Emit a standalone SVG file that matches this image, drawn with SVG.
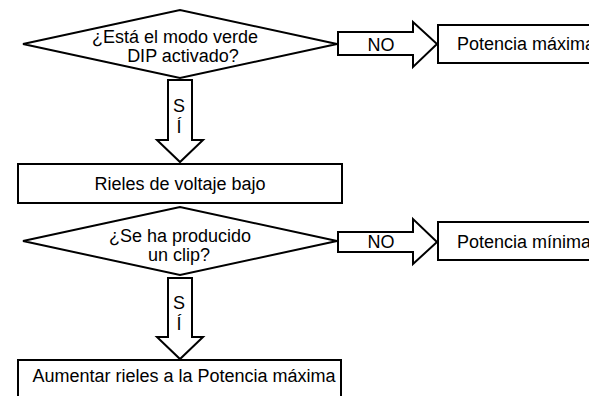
<svg xmlns="http://www.w3.org/2000/svg" width="589" height="396" viewBox="0 0 589 396">
<style>
.s{fill:#fff;stroke:#000;stroke-width:2;stroke-linejoin:miter}
.t{font-family:"Liberation Sans",Arial,sans-serif;font-size:18px;fill:#000}
.m{text-anchor:middle}
</style>
<rect width="589" height="396" fill="#fff"/>
<g id="q1">
<polygon class="s" points="23,44 180,10 337,44 180,78"/>
<text class="t m" x="175" y="43">¿Está el modo verde</text>
<text class="t m" x="183" y="62">DIP activado?</text>
</g>
<g id="pmax">
<rect class="s" x="438" y="25" width="170" height="38"/>
<text class="t" x="457" y="50">Potencia máxima</text>
</g>
<g id="rieles">
<rect class="s" x="18" y="164" width="324" height="39"/>
<text class="t m" x="180" y="190">Rieles de voltaje bajo</text>
</g>
<g id="q2">
<polygon class="s" points="23,241 180,207 337,241 180,275"/>
<text class="t m" x="180" y="242">¿Se ha producido</text>
<text class="t m" x="179" y="261">un clip?</text>
</g>
<g id="pmin">
<rect class="s" x="438" y="222" width="170" height="38"/>
<text class="t" x="457" y="248">Potencia mínima</text>
</g>
<g id="aumentar">
<rect class="s" x="18" y="360" width="323" height="50"/>
<text class="t m" x="184" y="382">Aumentar rieles a la Potencia máxima</text>
</g>
<g id="connectors">
<polygon class="s" points="338,32 413,32 413,22 437,44 413,67 413,55 338,55"/>
<text class="t m" x="381" y="51">NO</text>
<polygon class="s" points="168,80 192,80 192,140 203,140 180,162 157,140 168,140"/>
<text class="t m" x="179" y="112">S</text>
<text class="t m" x="179" y="133">Í</text>
<polygon class="s" points="338,232 413,232 413,219 437,242 413,264 413,252 338,252"/>
<text class="t m" x="381" y="248">NO</text>
<polygon class="s" points="168,278 192,278 192,337 203,337 180,359 157,337 168,337"/>
<text class="t m" x="179" y="309">S</text>
<text class="t m" x="179" y="330">Í</text>
</g>
</svg>
